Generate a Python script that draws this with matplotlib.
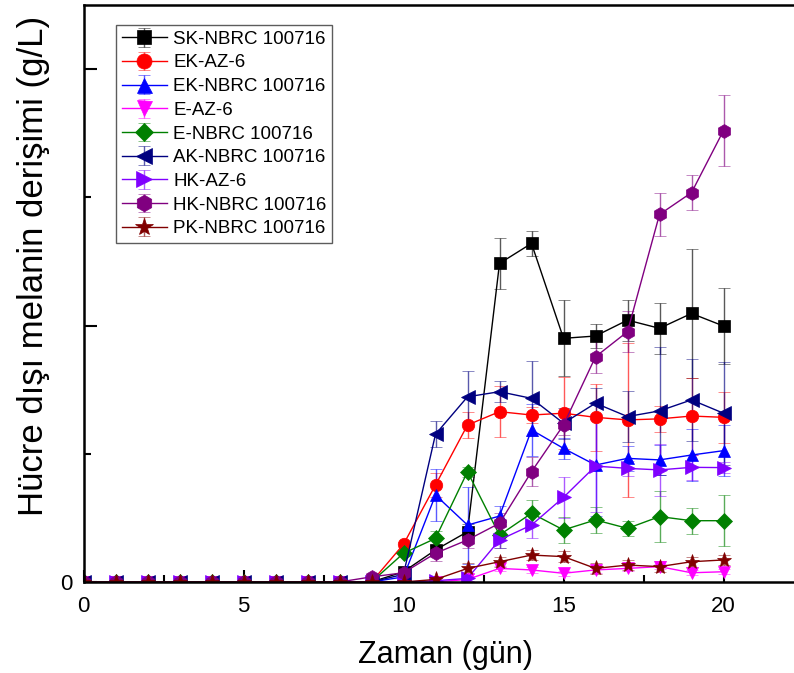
import matplotlib
matplotlib.use("Agg")
import matplotlib.pyplot as plt
from matplotlib.ticker import FixedLocator

plt.rcParams['font.family'] = ['Liberation Sans', 'DejaVu Sans']

days = list(range(21))

labels = ["SK-NBRC 100716", "EK-AZ-6", "EK-NBRC 100716", "E-AZ-6", "E-NBRC 100716",
          "AK-NBRC 100716", "HK-AZ-6", "HK-NBRC 100716", "PK-NBRC 100716"]
colors = ["#000000", "#FF0000", "#0000FF", "#FF00FF", "#008000",
          "#000080", "#8000FF", "#800080", "#800000"]
markers = ["s", "o", "^", "v", "D", "<", ">", "h", "*"]

z9 = [0.0] * 9
sk = z9 + [0.0, 0.04, 0.125, 0.196, 1.242, 1.320, 0.950, 0.959, 1.021, 0.989, 1.047, 0.998]
ek_az = z9 + [0.0, 0.147, 0.378, 0.612, 0.664, 0.651, 0.658, 0.642, 0.632, 0.636, 0.647, 0.642]
ek_nb = z9 + [0.0, 0.02, 0.339, 0.222, 0.257, 0.593, 0.521, 0.456, 0.482, 0.476, 0.495, 0.512]
e_az = z9 + [0.0, 0.0, 0.0, 0.01, 0.053, 0.047, 0.034, 0.047, 0.053, 0.060, 0.036, 0.040]
e_nb = z9 + [0.0, 0.112, 0.170, 0.430, 0.183, 0.268, 0.203, 0.242, 0.209, 0.255, 0.239, 0.239]
ak_nb = z9 + [0.0, 0.03, 0.576, 0.722, 0.742, 0.716, 0.619, 0.697, 0.645, 0.667, 0.710, 0.658]
hk_az = z9 + [0.0, 0.0, 0.005, 0.014, 0.164, 0.222, 0.330, 0.452, 0.443, 0.437, 0.447, 0.446]
hk_nb = z9 + [0.02, 0.036, 0.112, 0.164, 0.229, 0.430, 0.612, 0.878, 0.976, 1.433, 1.518, 1.760]
pk_nb = z9 + [0.0, 0.0, 0.01, 0.053, 0.079, 0.105, 0.099, 0.053, 0.066, 0.060, 0.079, 0.086]

e9 = [0.0] * 9
sk_err = e9 + [0.0, 0.01, 0.02, 0.03, 0.10, 0.05, 0.148, 0.048, 0.08, 0.099, 0.25, 0.15]
ek_az_err = e9 + [0.0, 0.01, 0.047, 0.05, 0.10, 0.03, 0.14, 0.13, 0.30, 0.05, 0.15, 0.10]
ek_nb_err = e9 + [0.0, 0.01, 0.10, 0.15, 0.04, 0.10, 0.04, 0.20, 0.05, 0.06, 0.10, 0.10]
e_az_err = e9 + [0.0, 0.0, 0.0, 0.005, 0.01, 0.01, 0.01, 0.01, 0.01, 0.01, 0.01, 0.01]
e_nb_err = e9 + [0.0, 0.01, 0.03, 0.02, 0.05, 0.05, 0.05, 0.05, 0.03, 0.10, 0.05, 0.10]
ak_nb_err = e9 + [0.0, 0.01, 0.05, 0.10, 0.04, 0.146, 0.06, 0.06, 0.10, 0.25, 0.16, 0.20]
hk_az_err = e9 + [0.0, 0.0, 0.0, 0.01, 0.03, 0.05, 0.08, 0.18, 0.03, 0.10, 0.05, 0.02]
hk_nb_err = e9 + [0.005, 0.01, 0.03, 0.03, 0.04, 0.057, 0.04, 0.065, 0.08, 0.084, 0.068, 0.14]
pk_nb_err = e9 + [0.0, 0.0, 0.005, 0.02, 0.02, 0.02, 0.02, 0.02, 0.02, 0.02, 0.02, 0.02]

series = [sk, ek_az, ek_nb, e_az, e_nb, ak_nb, hk_az, hk_nb, pk_nb]
errors = [sk_err, ek_az_err, ek_nb_err, e_az_err, e_nb_err, ak_nb_err, hk_az_err, hk_nb_err, pk_nb_err]
msizes = [8, 9, 9, 9, 8, 10, 10, 10, 11]

W, H = 794, 673
fig = plt.figure(figsize=(W / 100, H / 100), dpi=100)
left_px, right_px, bottom_px, top_px = 83.5, 794, 582, 5
ax = fig.add_axes([left_px / W, (H - bottom_px) / H, (right_px - left_px) / W, (bottom_px - top_px) / H])

for y, e, c, m, lab, ms in zip(series, errors, colors, markers, labels, msizes):
    ax.errorbar(days, y, yerr=e, color=c, marker=m, markersize=ms, linewidth=1.0,
                markeredgewidth=0.5, label=lab, capsize=4.5, elinewidth=1.0,
                ecolor=matplotlib.colors.to_rgba(c, 0.65), capthick=1.0)

ax.set_xlim(0, (right_px - left_px) / 32.0)
ax.set_ylim(0, (bottom_px - top_px) / 256.5)

ax.xaxis.set_major_locator(FixedLocator([0, 5, 10, 15, 20]))
ax.xaxis.set_minor_locator(FixedLocator([2.5, 7.5, 12.5, 17.5]))
ax.yaxis.set_major_locator(FixedLocator([0, 1, 2]))
ax.yaxis.set_minor_locator(FixedLocator([0.5, 1.5]))
ax.set_yticklabels(['0', '', ''])
ax.tick_params(which='major', direction='in', length=9, width=1.5, labelsize=16, pad=8)
ax.tick_params(which='minor', direction='in', length=5, width=1.5)
ax.tick_params(axis='x', which='major', pad=10)
ax.spines['right'].set_visible(False)
for s in ['left', 'bottom', 'top']:
    ax.spines[s].set_linewidth(1.8)

ax.set_xlabel('Zaman (gün)', fontsize=22)
ax.xaxis.set_label_coords((446 - left_px) / (right_px - left_px), -0.1)
ax.set_ylabel('Hücre dışı melanin derişimi (g/L)', fontsize=25)
ax.yaxis.set_label_coords(-0.047, (bottom_px - 266) / (bottom_px - top_px))

leg = ax.legend(loc='upper left', bbox_to_anchor=((116 - left_px) / (right_px - left_px), 1 - (25 - top_px) / (bottom_px - top_px)),
                fontsize=13.5, frameon=True, fancybox=False, edgecolor='#333333',
                borderpad=0.3, labelspacing=0.35, handlelength=2.4, handletextpad=0.35,
                borderaxespad=0.0, markerscale=1.2)
leg.get_frame().set_linewidth(1.0)

fig.savefig('out.png', dpi=100)
